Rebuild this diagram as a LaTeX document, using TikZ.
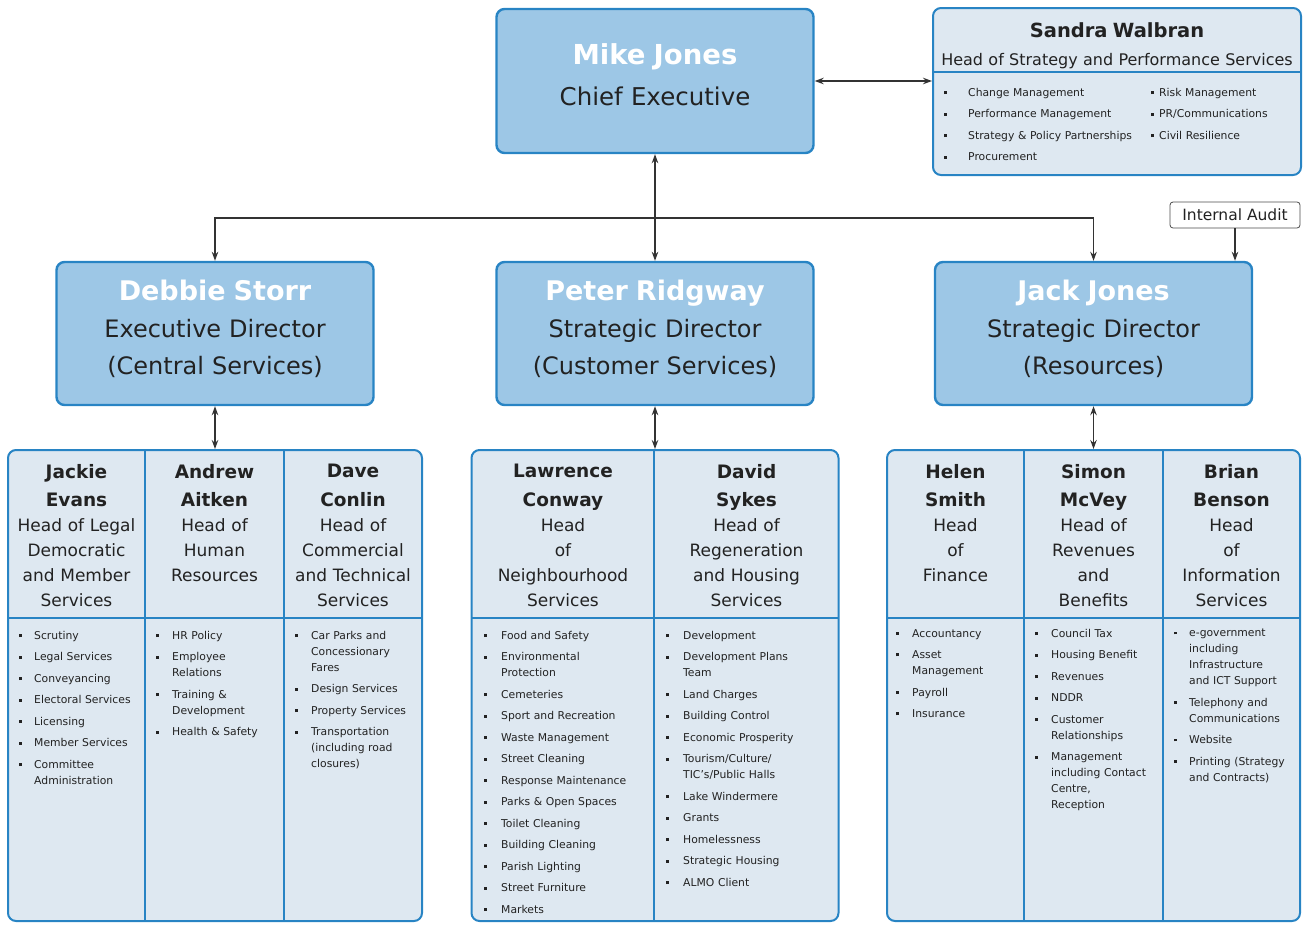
\documentclass[tikz,border=0pt]{standalone}
\usepackage{fontspec}
\setmainfont{DejaVu Sans}
\usetikzlibrary{arrows.meta}
\setlength{\parindent}{0pt}

\definecolor{boxblue}{RGB}{157,199,230}
\definecolor{edgeblue}{RGB}{40,132,196}
\definecolor{paleblue}{RGB}{222,232,241}
\definecolor{inkgray}{RGB}{34,34,34}

\newcommand{\sqbul}{\rule[2.3pt]{2.8pt}{2.8pt}}
\newcommand{\itm}[2][16pt]{\hangindent=#1\hangafter=1\makebox[#1][l]{\sqbul}#2\par}
\newcommand{\nl}{\newline}
\newcommand{\lowstrut}[1]{\rule[-#1]{0pt}{#1}}
\newcommand{\dname}[1]{{\color{white}\bfseries\fontsize{27}{37}\selectfont #1}}
\newcommand{\hname}[1]{{\bfseries\fontsize{18.5}{28.5}\selectfont #1\par}}

\begin{document}
\begin{tikzpicture}[x=1pt, y=-1pt,
    chief/.style={draw=edgeblue, line width=2.4pt, fill=boxblue, rounded corners=8pt,
      minimum width=317, minimum height=144, text width=305, align=center,
      inner sep=0pt, text=inkgray, font=\fontsize{24.5}{41}\selectfont},
    director/.style={chief, minimum height=143, font=\fontsize{24}{37}\selectfont},
    group/.style={draw=edgeblue, line width=2pt, fill=paleblue, rounded corners=8pt,
      inner sep=0pt},
    sep/.style={draw=edgeblue, line width=1.8pt},
    head/.style={anchor=north, text width=134, align=center, inner sep=0pt,
      text=inkgray, font=\fontsize{17}{25}\selectfont},
    items/.style={anchor=north west, text width=200, align=left, inner sep=0pt,
      text=inkgray, font=\fontsize{10.8}{16}\selectfont\setlength{\parskip}{5.5pt}},
    audit/.style={draw=black!70, line width=0.8pt, fill=white, rounded corners=3pt,
      minimum width=130, minimum height=26, inner sep=0pt,
      font=\fontsize{15.5}{18}\selectfont, text=inkgray},
    wire/.style={draw=black!80, line width=1.1pt},
    link/.style={wire, {Stealth[length=9pt,width=6.5pt]}-{Stealth[length=9pt,width=6.5pt]}},
    down/.style={wire, -{Stealth[length=9pt,width=6.5pt]}}
  ]
  \useasboundingbox (0,0) rectangle (1305,924);

  % Top level
  \node[chief] (mike) at (655,81)
    {{\color{white}\bfseries\fontsize{27.5}{41}\selectfont Mike Jones}\\Chief Executive\lowstrut{12pt}};
  \node[group, minimum width=368, minimum height=167] (sandra) at (1117,91.5) {};
  \draw[sep, line width=1.2pt] (933,72) -- (1301,72);
  \node[head, text width=366, font=\fontsize{16}{28}\selectfont] (sandraH) at (1117,22)
    {{\bfseries\fontsize{19.5}{28}\selectfont Sandra Walbran}\\Head of Strategy and Performance Services};
  \node[items] (sandraL) at (944,88)
    {\itm[24pt]{Change Management}\itm[24pt]{Performance Management}\itm[24pt]{Strategy \& Policy Partnerships}\itm[24pt]{Procurement}};
  \node[items] (sandraR) at (1151,88)
    {\itm[8pt]{Risk Management}\itm[8pt]{PR/Communications}\itm[8pt]{Civil Resilience}};
  \node[audit] (audit) at (1235,215) {Internal Audit};

  % Directors
  \node[director] (debbie) at (215,333.5)
    {\dname{Debbie Storr}\\Executive Director\\(Central Services)\lowstrut{12pt}};
  \node[director] (peter) at (655,333.5)
    {\dname{Peter Ridgway}\\Strategic Director\\(Customer Services)\lowstrut{12pt}};
  \node[director] (jack) at (1093.5,333.5)
    {\dname{Jack Jones}\\Strategic Director\\(Resources)\lowstrut{12pt}};

  % Arrows
  \coordinate (bus) at (655,218);
  \draw[link] (mike.east) -- (mike.east -| sandra.west);
  \draw[link] (mike) -- (peter);
  \draw[down] (bus) -| (debbie);
  \draw[down] (bus) -| (jack);
  \draw[down] (audit) -- (audit |- jack.north);

  % Service groups
  \node[group, minimum width=414, minimum height=471] (central) at (215,685.5) {};
  \node[group, minimum width=367, minimum height=471] (customer) at (655,685.5) {};
  \node[group, minimum width=413, minimum height=471] (resources) at (1093.5,685.5) {};
  \foreach \x in {145,284,654,1024,1163}
    \draw[sep] (\x,450) -- (\x,921);
  \draw[sep] (8,618) -- (422,618);
  \draw[sep] (472,618) -- (839,618);
  \draw[sep] (887,618) -- (1300,618);
  \draw[link] (debbie) -- (central);
  \draw[link] (peter) -- (customer);
  \draw[link] (jack) -- (resources);

  % Heads
  \node[head] (evans) at (76.5,464) {\hname{Jackie\\Evans}Head of Legal\\Democratic\\and Member\\Services};
  \node[head] (aitken) at (214.5,464) {\hname{Andrew\\Aitken}Head of\\Human\\Resources};
  \node[head] (conlin) at (353,464) {\hname{Dave\\Conlin}Head of\\Commercial\\and Technical\\Services};
  \node[head, text width=175] (conway) at (563,464) {\hname{Lawrence\\Conway}Head\\of\\Neighbourhood\\Services};
  \node[head, text width=175] (sykes) at (746.5,464) {\hname{David\\Sykes}Head of\\Regeneration\\and Housing\\Services};
  \node[head] (smith) at (955.5,464) {\hname{Helen\\Smith}Head\\of\\Finance};
  \node[head] (mcvey) at (1093.5,464) {\hname{Simon\\McVey}Head of\\Revenues\\and\\Benefits};
  \node[head] (benson) at (1231.5,464) {\hname{Brian\\Benson}Head\\of\\Information\\Services};

  % Duties
  \node[items] (evansL) at (19,631)
    {\itm[15pt]{Scrutiny}\itm[15pt]{Legal Services}\itm[15pt]{Conveyancing}\itm[15pt]{Electoral Services}\itm[15pt]{Licensing}\itm[15pt]{Member Services}\itm[15pt]{Committee\nl Administration}};
  \node[items] (aitkenL) at (156,631)
    {\itm{HR Policy}\itm{Employee\nl Relations}\itm{Training \&\nl Development}\itm{Health \& Safety}};
  \node[items] (conlinL) at (295,631)
    {\itm{Car Parks and\nl Concessionary\nl Fares}\itm{Design Services}\itm{Property Services}\itm{Transportation\nl (including road\nl closures)}};
  \node[items] (conwayL) at (484,631)
    {\itm[17pt]{Food and Safety}\itm[17pt]{Environmental\nl Protection}\itm[17pt]{Cemeteries}\itm[17pt]{Sport and Recreation}\itm[17pt]{Waste Management}\itm[17pt]{Street Cleaning}\itm[17pt]{Response Maintenance}\itm[17pt]{Parks \& Open Spaces}\itm[17pt]{Toilet Cleaning}\itm[17pt]{Building Cleaning}\itm[17pt]{Parish Lighting}\itm[17pt]{Street Furniture}\itm[17pt]{Markets}};
  \node[items] (sykesL) at (666,631)
    {\itm[17pt]{Development}\itm[17pt]{Development Plans\nl Team}\itm[17pt]{Land Charges}\itm[17pt]{Building Control}\itm[17pt]{Economic Prosperity}\itm[17pt]{Tourism/Culture/\nl TIC's/Public Halls}\itm[17pt]{Lake Windermere}\itm[17pt]{Grants}\itm[17pt]{Homelessness}\itm[17pt]{Strategic Housing}\itm[17pt]{ALMO Client}};
  \node[items] (smithL) at (896,629)
    {\itm{Accountancy}\itm{Asset\nl Management}\itm{Payroll}\itm{Insurance}};
  \node[items] (mcveyL) at (1035,629)
    {\itm{Council Tax}\itm{Housing Benefit}\itm{Revenues}\itm{NDDR}\itm{Customer\nl Relationships}\itm{Management\nl including Contact\nl Centre,\nl Reception}};
  \node[items] (bensonL) at (1174,629)
    {\itm[15pt]{e-government\nl including\nl Infrastructure\nl and ICT Support}\itm[15pt]{Telephony and\nl Communications}\itm[15pt]{Website}\itm[15pt]{Printing (Strategy\nl and Contracts)}};
\end{tikzpicture}
\end{document}
